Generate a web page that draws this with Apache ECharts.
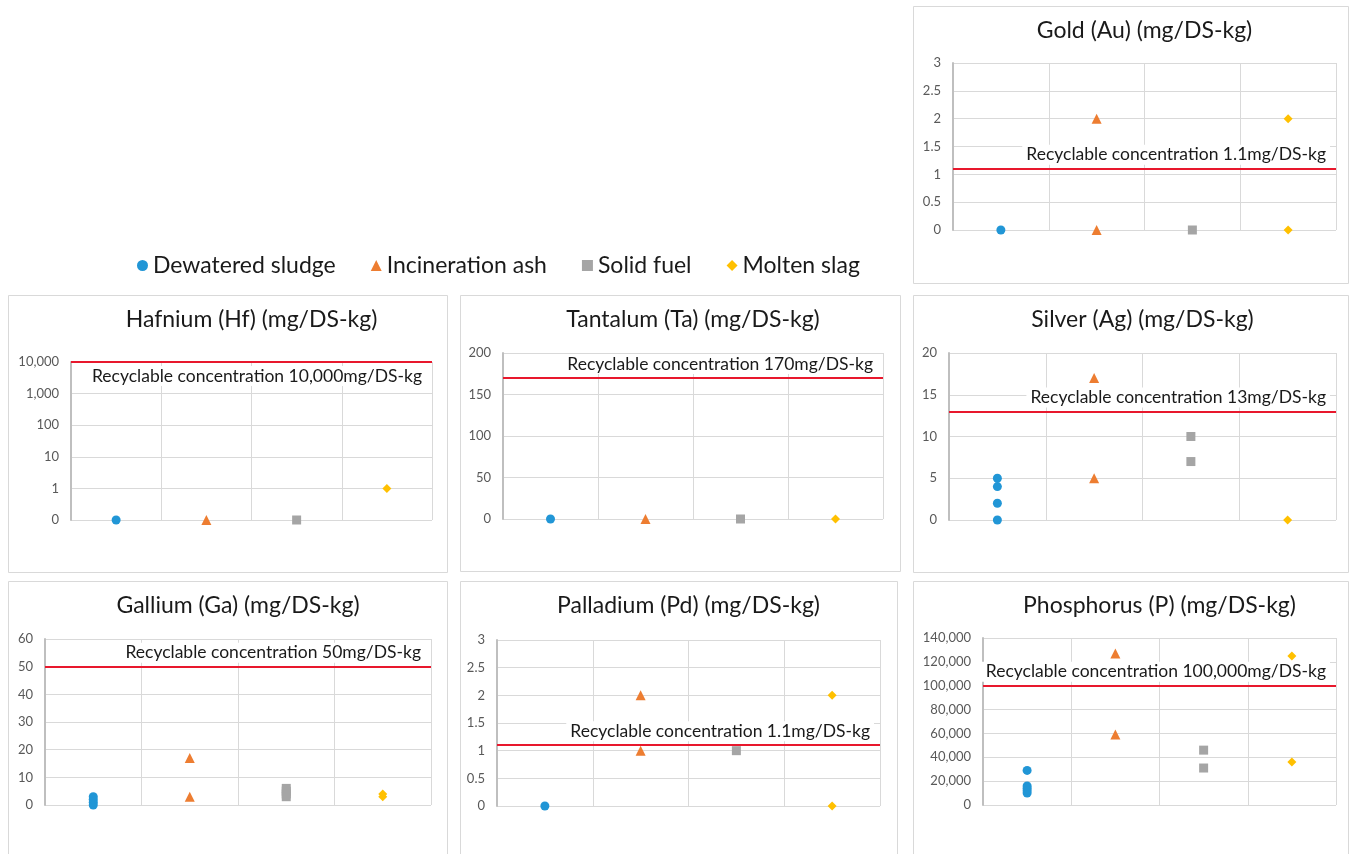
<!DOCTYPE html>
<html>
<head>
<meta charset="utf-8">
<script src="https://cdn.jsdelivr.net/npm/echarts@6/dist/echarts.min.js"></script>
<style>
  html, body { margin: 0; padding: 0; background: #fff; }
  #main { width: 1351px; height: 854px; }
</style>
</head>
<body>
<div id="main"></div>
<script>
// sample groups (x categories) and legend names
var categories = ['Dewatered sludge', 'Incineration ash', 'Solid fuel', 'Molten slag'];

// measured values per group: [sludge, ash, fuel, slag]
var goldValues = [[0], [2, 0], [0], [2, 0]];
var hafniumValues = [[0.1], [0.1], [0.1], [1]];
var tantalumValues = [[0], [0], [0], [0]];
var silverValues = [[0, 2, 4, 5], [17, 5], [10, 7], [0]];
var galliumValues = [[0, 1, 2, 3], [17, 3], [3, 4, 5, 6], [3, 4]];
var palladiumValues = [[0], [2, 1], [1], [2, 0]];
var phosphorusValues = [[29000, 16000, 14000, 12000, 10000], [127000, 59000], [46000, 31000], [125000, 36000]];

// recyclable concentration thresholds
var goldLimit = 1.1;
var hafniumLimit = 10000;
var tantalumLimit = 170;
var silverLimit = 13;
var galliumLimit = 50;
var palladiumLimit = 1.1;
var phosphorusLimit = 100000;

var colors = ['#2196d6', '#ed7d31', '#a5a5a5', '#ffc000'];
var symbols = ['circle', 'triangle', 'rect', 'diamond'];
var symbolSizes = [9, 10, 9, 9];
var font = 'Lato, "Noto Sans", sans-serif';

function fmt(v) {
  if (v >= 1000) return Math.round(v).toLocaleString('en-US');
  return String(+v.toFixed(2));
}
function fmtLog(v) {
  if (v < 1) return '0';
  return Math.round(v).toLocaleString('en-US');
}

var panels = [
  { title: 'Gold (Au) (mg/DS-kg)', values: goldValues, limit: goldLimit, label: 'Recyclable concentration 1.1mg/DS-kg',
    box: [913, 6, 1348, 283], plot: [953, 63, 383, 167], y: { min: 0, max: 3, interval: 0.5 } },
  { title: 'Hafnium (Hf) (mg/DS-kg)', values: hafniumValues, limit: hafniumLimit, label: 'Recyclable concentration 10,000mg/DS-kg',
    box: [8, 295, 447, 572], plot: [71, 362, 361, 158], y: { type: 'log', logBase: 10, min: 0.1, max: 10000 }, below: true },
  { title: 'Tantalum (Ta) (mg/DS-kg)', values: tantalumValues, limit: tantalumLimit, label: 'Recyclable concentration 170mg/DS-kg',
    box: [460, 295, 900, 571], plot: [503, 353, 380, 166], y: { min: 0, max: 200, interval: 50 } },
  { title: 'Silver (Ag) (mg/DS-kg)', values: silverValues, limit: silverLimit, label: 'Recyclable concentration 13mg/DS-kg',
    box: [913, 295, 1348, 572], plot: [949, 353, 387, 167], y: { min: 0, max: 20, interval: 5 } },
  { title: 'Gallium (Ga) (mg/DS-kg)', values: galliumValues, limit: galliumLimit, label: 'Recyclable concentration 50mg/DS-kg',
    box: [8, 581, 447, 860], plot: [45, 639, 386, 166], y: { min: 0, max: 60, interval: 10 } },
  { title: 'Palladium (Pd) (mg/DS-kg)', values: palladiumValues, limit: palladiumLimit, label: 'Recyclable concentration 1.1mg/DS-kg',
    box: [460, 581, 897, 860], plot: [497, 640, 383, 166], y: { min: 0, max: 3, interval: 0.5 } },
  { title: 'Phosphorus (P) (mg/DS-kg)', values: phosphorusValues, limit: phosphorusLimit, label: 'Recyclable concentration 100,000mg/DS-kg',
    box: [913, 581, 1348, 860], plot: [983, 638, 353, 167], y: { min: 0, max: 140000, interval: 20000 } }
];

var grid = [], xAxis = [], yAxis = [], series = [], graphic = [];

panels.forEach(function (p, k) {
  graphic.push({
    type: 'rect', silent: true, z: -10,
    shape: { x: p.box[0] + 0.5, y: p.box[1] + 0.5, width: p.box[2] - p.box[0], height: p.box[3] - p.box[1] },
    style: { fill: '#fff', stroke: '#d9d9d9', lineWidth: 1 }
  });
  // title is centred over the plot area, not the frame
  graphic.push({
    type: 'text', silent: true,
    x: p.plot[0] + p.plot[2] / 2, y: p.box[1] + 25,
    style: { text: p.title, font: '23px ' + font, fill: '#1a1a1a', align: 'center', verticalAlign: 'middle' }
  });

  grid.push({ left: p.plot[0], top: p.plot[1], width: p.plot[2], height: p.plot[3] });
  xAxis.push({
    type: 'category', gridIndex: k, data: categories, boundaryGap: true,
    axisLine: { show: false }, axisTick: { show: false }, axisLabel: { show: false },
    splitLine: { show: true, interval: 0, lineStyle: { color: '#d9d9d9', width: 1 } }
  });
  var ya = {
    type: p.y.type || 'value', gridIndex: k, min: p.y.min, max: p.y.max,
    axisLine: { show: true, lineStyle: { color: '#bfbfbf', width: 2 } },
    axisTick: { show: false },
    axisLabel: { color: '#595959', fontSize: 13, fontFamily: font, margin: 12, formatter: p.y.logBase ? fmtLog : fmt },
    splitLine: { show: true, lineStyle: { color: '#d9d9d9', width: 1 } }
  };
  if (p.y.interval) ya.interval = p.y.interval;
  if (p.y.logBase) ya.logBase = p.y.logBase;
  yAxis.push(ya);

  categories.forEach(function (name, i) {
    var s = {
      name: name, type: 'scatter', xAxisIndex: k, yAxisIndex: k,
      symbol: symbols[i], symbolSize: symbolSizes[i],
      itemStyle: { color: colors[i], opacity: 1 },
      data: p.values[i].map(function (v) { return [name, v]; }),
      z: 5
    };
    if (i === 0) {
      s.markLine = {
        silent: true, symbol: 'none', animation: false,
        lineStyle: { color: '#e8182d', width: 2, type: 'solid' },
        data: [{ yAxis: p.limit }],
        label: {
          show: true, formatter: p.label,
          position: p.below ? 'insideEndBottom' : 'insideEndTop',
          color: '#1a1a1a', fontSize: 17.5, fontFamily: font,
          backgroundColor: '#fff', padding: [1, 4, 1, 4], distance: [6, 4]
        }
      };
    }
    series.push(s);
  });
});

var chart = echarts.init(document.getElementById('main'));
chart.setOption({
  animation: false,
  backgroundColor: '#fff',
  legend: {
    left: 132, top: 249, itemGap: 35, itemWidth: 11, itemHeight: 11,
    data: categories.map(function (n, i) { return { name: n, icon: symbols[i] }; }),
    textStyle: { fontSize: 23, fontFamily: font, color: '#1a1a1a' }
  },
  graphic: graphic,
  grid: grid,
  xAxis: xAxis,
  yAxis: yAxis,
  series: series
});
</script>
</body>
</html>
